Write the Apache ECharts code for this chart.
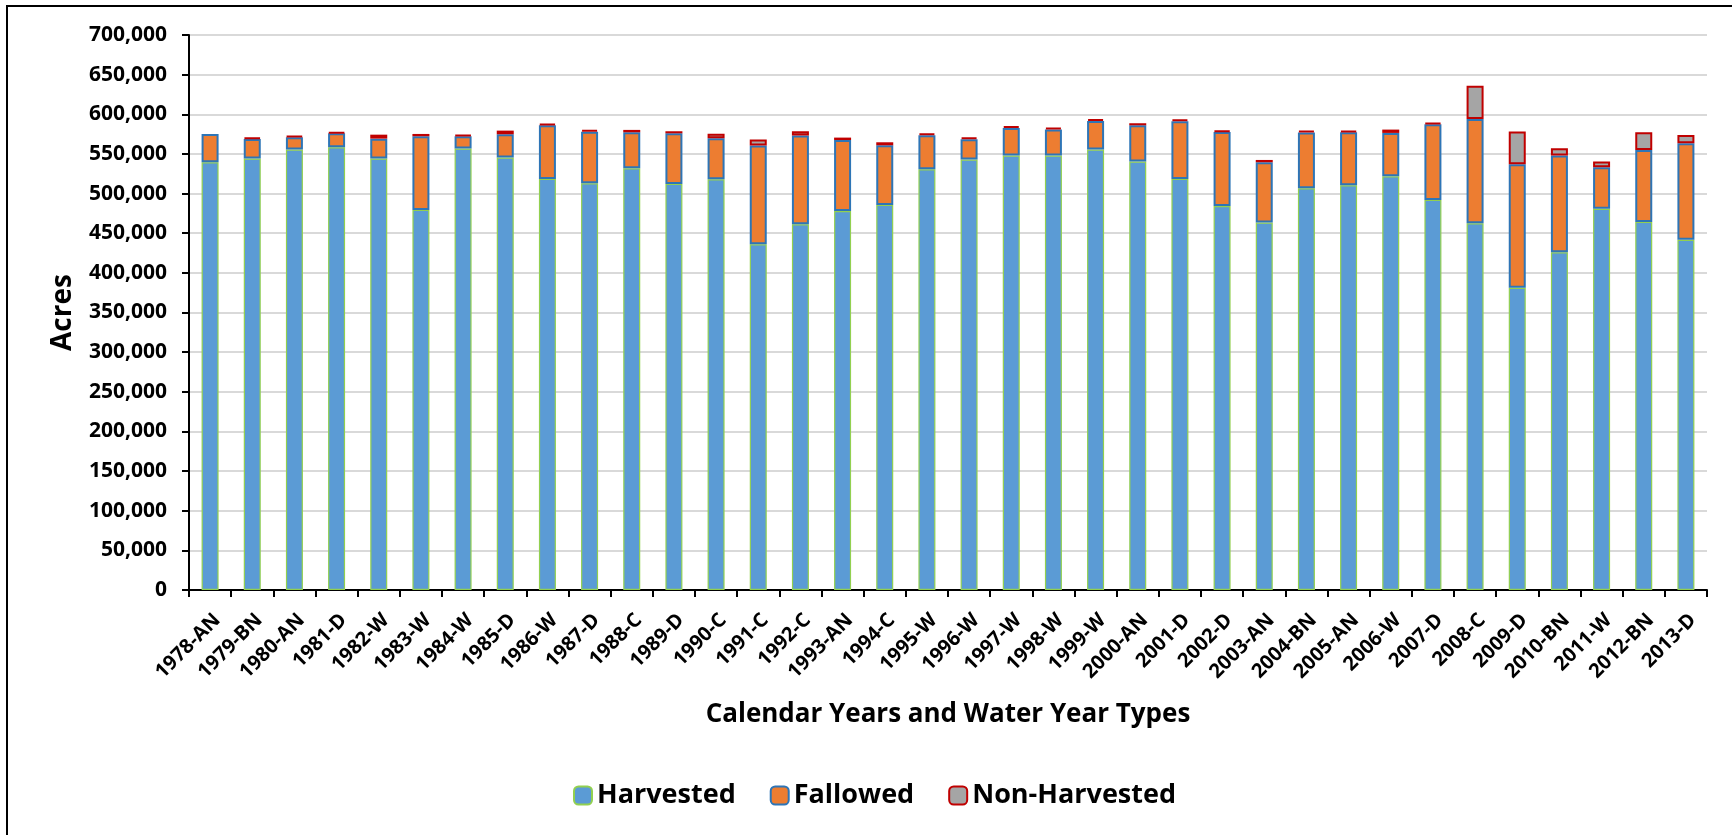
<!DOCTYPE html>
<html>
<head>
<meta charset="utf-8">
<title>Harvested, Fallowed and Non-Harvested Acres</title>
<script src="https://cdn.jsdelivr.net/npm/echarts@6/dist/echarts.min.js"></script>
<style>
  html, body { margin: 0; padding: 0; background: #fff; }
  #chart { width: 1732px; height: 835px; }
</style>
</head>
<body>
<div id="chart"></div>
<script>
// Calendar year and water year type for each bar
const categories = [
  '1978-AN','1979-BN','1980-AN','1981-D','1982-W','1983-W','1984-W','1985-D','1986-W',
  '1987-D','1988-C','1989-D','1990-C','1991-C','1992-C','1993-AN','1994-C','1995-W',
  '1996-W','1997-W','1998-W','1999-W','2000-AN','2001-D','2002-D','2003-AN','2004-BN',
  '2005-AN','2006-W','2007-D','2008-C','2009-D','2010-BN','2011-W','2012-BN','2013-D'
];

// Acres per year
const harvested = [
  539500, 544100, 555500, 558400, 544100, 479400, 556700, 545400, 518500,
  513000, 531900, 512200, 518100, 436100, 461300, 478100, 485700, 530700,
  542900, 547900, 547900, 555500, 540300, 518500, 484400, 463400, 506700,
  510500, 521800, 492000, 462600, 381100, 426000, 480700, 464300, 441600
];
const fallowed = [
  35700, 24800, 15500, 17600, 25200, 92900, 15600, 29400, 67600,
  65100, 45400, 63800, 51600, 124400, 111800, 89500, 75200, 42800,
  25600, 34900, 32800, 36100, 45800, 72700, 93300, 76100, 70200,
  66800, 54700, 95400, 131500, 155900, 121900, 52500, 90700, 121800
];
const nonHarvested = [
  0, 1700, 1700, 1700, 5000, 2900, 1600, 4600, 2100,
  2500, 3000, 2600, 5900, 7600, 5500, 3000, 3800, 2500,
  2500, 2500, 2500, 2500, 2600, 2500, 2100, 2900, 2500,
  2100, 4200, 2100, 42000, 41200, 9200, 7100, 22300, 10500
];

// Value axis ticks
const yMin = 0;
const yMax = 700000;
const yStep = 50000;

const FONT = '"Open Sans", Lato, "DejaVu Sans", sans-serif';

// zero-height segments are left out so they draw no outline
const skipZero = arr => arr.map(v => (v === 0 ? '-' : v));

const chart = echarts.init(document.getElementById('chart'));

chart.setOption({
  backgroundColor: '#ffffff',
  animation: false,
  textStyle: { fontFamily: FONT },
  graphic: [{
    type: 'rect',
    silent: true,
    shape: { x: 7, y: 6, width: 1800, height: 900 },
    style: { fill: 'none', stroke: '#000000', lineWidth: 2 }
  }],
  grid: { left: 189, right: 25, top: 35, bottom: 245, containLabel: false },
  legend: {
    left: 568,
    top: 777,
    itemWidth: 18,
    itemHeight: 18,
    itemGap: 34,
    textStyle: { fontFamily: FONT, fontWeight: 'bold', fontSize: 27, color: '#000' },
    data: ['Harvested', 'Fallowed', 'Non-Harvested']
  },
  xAxis: {
    type: 'category',
    data: categories,
    name: 'Calendar Years and Water Year Types',
    nameLocation: 'middle',
    nameGap: 112,
    nameTextStyle: { fontFamily: FONT, fontWeight: 'bold', fontSize: 26, color: '#000' },
    axisLine: { lineStyle: { color: '#000', width: 2 } },
    axisTick: { show: true, length: 7, lineStyle: { color: '#000', width: 2 } },
    axisLabel: {
      interval: 0,
      rotate: 45,
      align: 'right',
      verticalAlign: 'top',
      margin: 20,
      fontFamily: FONT,
      fontWeight: 'bold',
      fontSize: 20,
      color: '#000'
    },
    splitLine: { show: false }
  },
  yAxis: {
    type: 'value',
    min: yMin,
    max: yMax,
    interval: yStep,
    name: 'Acres',
    nameLocation: 'middle',
    nameGap: 112,
    nameTextStyle: { fontFamily: FONT, fontWeight: 'bold', fontSize: 28, color: '#000' },
    axisLine: { show: true, lineStyle: { color: '#000', width: 2 } },
    axisTick: { show: true, length: 7, lineStyle: { color: '#000', width: 2 } },
    axisLabel: {
      margin: 22,
      fontFamily: FONT,
      fontWeight: 'bold',
      fontSize: 21,
      color: '#000',
      formatter: v => v.toLocaleString('en-US')
    },
    splitLine: { lineStyle: { color: '#d9d9d9', width: 2 } }
  },
  series: [
    {
      name: 'Harvested',
      type: 'bar',
      stack: 'acres',
      barWidth: 17,
      data: harvested,
      itemStyle: { color: '#5b9bd5', borderColor: '#92d050', borderWidth: 1.2 }
    },
    {
      name: 'Fallowed',
      type: 'bar',
      stack: 'acres',
      barWidth: 17,
      data: fallowed,
      itemStyle: { color: '#ed7d31', borderColor: '#2e75b6', borderWidth: 2 }
    },
    {
      name: 'Non-Harvested',
      type: 'bar',
      stack: 'acres',
      barWidth: 17,
      data: skipZero(nonHarvested),
      itemStyle: { color: '#a5a5a5', borderColor: '#c00000', borderWidth: 2 }
    }
  ]
});
</script>
</body>
</html>
